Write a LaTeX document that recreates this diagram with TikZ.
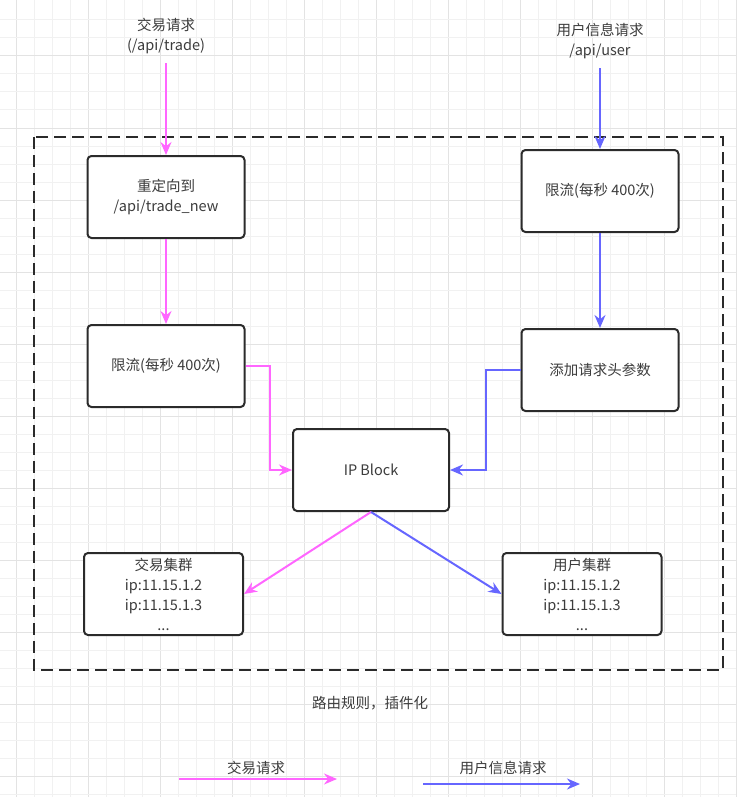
\documentclass[tikz,border=0pt]{standalone}
\usepackage{fontspec}
\setmainfont{Noto Sans CJK SC}
\usetikzlibrary{arrows.meta,positioning}
\definecolor{TradePink}{HTML}{FF66FF}
\definecolor{UserBlue}{HTML}{6666FF}
\definecolor{BoxBlack}{HTML}{2B2B2B}
\definecolor{TextGray}{HTML}{3C3C3C}
\definecolor{GridMinor}{HTML}{F1F1F1}
\definecolor{GridMajor}{HTML}{E3E3E3}
\tikzset{
    % Base box style
    basenode/.style={
        draw=BoxBlack,
        fill=white,
        line width=2pt,
        rounded corners=4pt,
        minimum width=157pt,
        minimum height=82pt,
        align=center,
        text=TextGray,
        font=\fontsize{14.5}{20}\selectfont
    },
    % Cluster box style
    clusternode/.style={
        basenode,
        minimum width=159pt
    },
    % Plain text label
    labelnode/.style={
        align=center,
        text=TextGray,
        font=\fontsize{14.5}{19.5}\selectfont
    },
    % Arrow styles
    pinkarrow/.style={
        -{Stealth[length=13pt,width=11pt]},
        line width=2pt,
        draw=TradePink
    },
    bluearrow/.style={
        -{Stealth[length=13pt,width=11pt]},
        line width=2pt,
        draw=UserBlue
    },
    % Dashed frame
    framebox/.style={
        draw=BoxBlack,
        line width=2.4pt,
        dash pattern=on 12pt off 6pt
    }
}
\begin{document}
\begin{tikzpicture}[x=1pt,y=-1pt]
        \useasboundingbox (0,0) rectangle (736,797);

        % Background grid
        \foreach \i in {0,...,40} {
            \pgfmathtruncatemacro{\m}{mod(\i,4)}
            \ifnum\m=0
                \draw[GridMajor,line width=1pt] ({16.7+18*\i},0) -- ({16.7+18*\i},797);
            \else
                \draw[GridMinor,line width=1pt] ({16.7+18*\i},0) -- ({16.7+18*\i},797);
            \fi
        }
        \foreach \j in {0,...,43} {
            \pgfmathtruncatemacro{\m}{mod(\j,4)}
            \ifnum\m=2
                \draw[GridMajor,line width=1pt] (0,{20+18*\j}) -- (736,{20+18*\j});
            \else
                \draw[GridMinor,line width=1pt] (0,{20+18*\j}) -- (736,{20+18*\j});
            \fi
        }

        % Dashed frame
        \draw[framebox] (34,137) rectangle (723,670);

        % Request labels
        \node[labelnode] (tradereq) at (166,36) {交易请求\\(/api/trade)};
        \node[labelnode] (userreq) at (600,41) {用户信息请求\\/api/user};

        % Trade side
        \node[basenode] (redirect) at (166,197) {重定向到\\/api/trade\_new};
        \node[basenode] (tradelimit) at (166,366) {限流(每秒 400次)};

        % User side
        \node[basenode] (userlimit) at (600,191) {限流(每秒 400次)};
        \node[basenode] (header) at (600,370) {添加请求头参数};

        % Middle
        \node[basenode,minimum width=156pt] (ipblock) at (371,470) {IP Block};

        % Clusters
        \node[clusternode] (tradecluster) at (163.5,594) {交易集群\\ip:11.15.1.2\\ip:11.15.1.3\\...};
        \node[clusternode] (usercluster) at (582,594) {用户集群\\ip:11.15.1.2\\ip:11.15.1.3\\...};

        % Caption
        \node[labelnode] (caption) at (370,703) {路由规则，插件化};

        % Legend
        \node[labelnode] (tradelegend) at (256,768) {交易请求};
        \node[labelnode] (userlegend) at (503,768) {用户信息请求};
        \coordinate (tradeA) at (179,779);
        \coordinate (tradeB) at (337,779);
        \coordinate (userA) at (423,784);
        \coordinate (userB) at (580,784);

        % Arrows
        \draw[pinkarrow] (tradereq.south) ++(0,6) -- (redirect.north);
        \draw[pinkarrow] (redirect) -- (tradelimit);
        \draw[pinkarrow] (tradelimit.east) -- ++(24,0) |- (ipblock.west);
        \draw[pinkarrow] (ipblock.south) -- (tradecluster.east);

        \draw[bluearrow] (userreq.south) ++(0,6) -- (userlimit.north);
        \draw[bluearrow] (userlimit) -- (header);
        \draw[bluearrow] (header.west) -- ++(-35,0) |- (ipblock.east);
        \draw[bluearrow] (ipblock.south) -- (usercluster.west);

        \draw[pinkarrow] (tradeA) -- (tradeB);
        \draw[bluearrow] (userA) -- (userB);
    \end{tikzpicture}
\end{document}
